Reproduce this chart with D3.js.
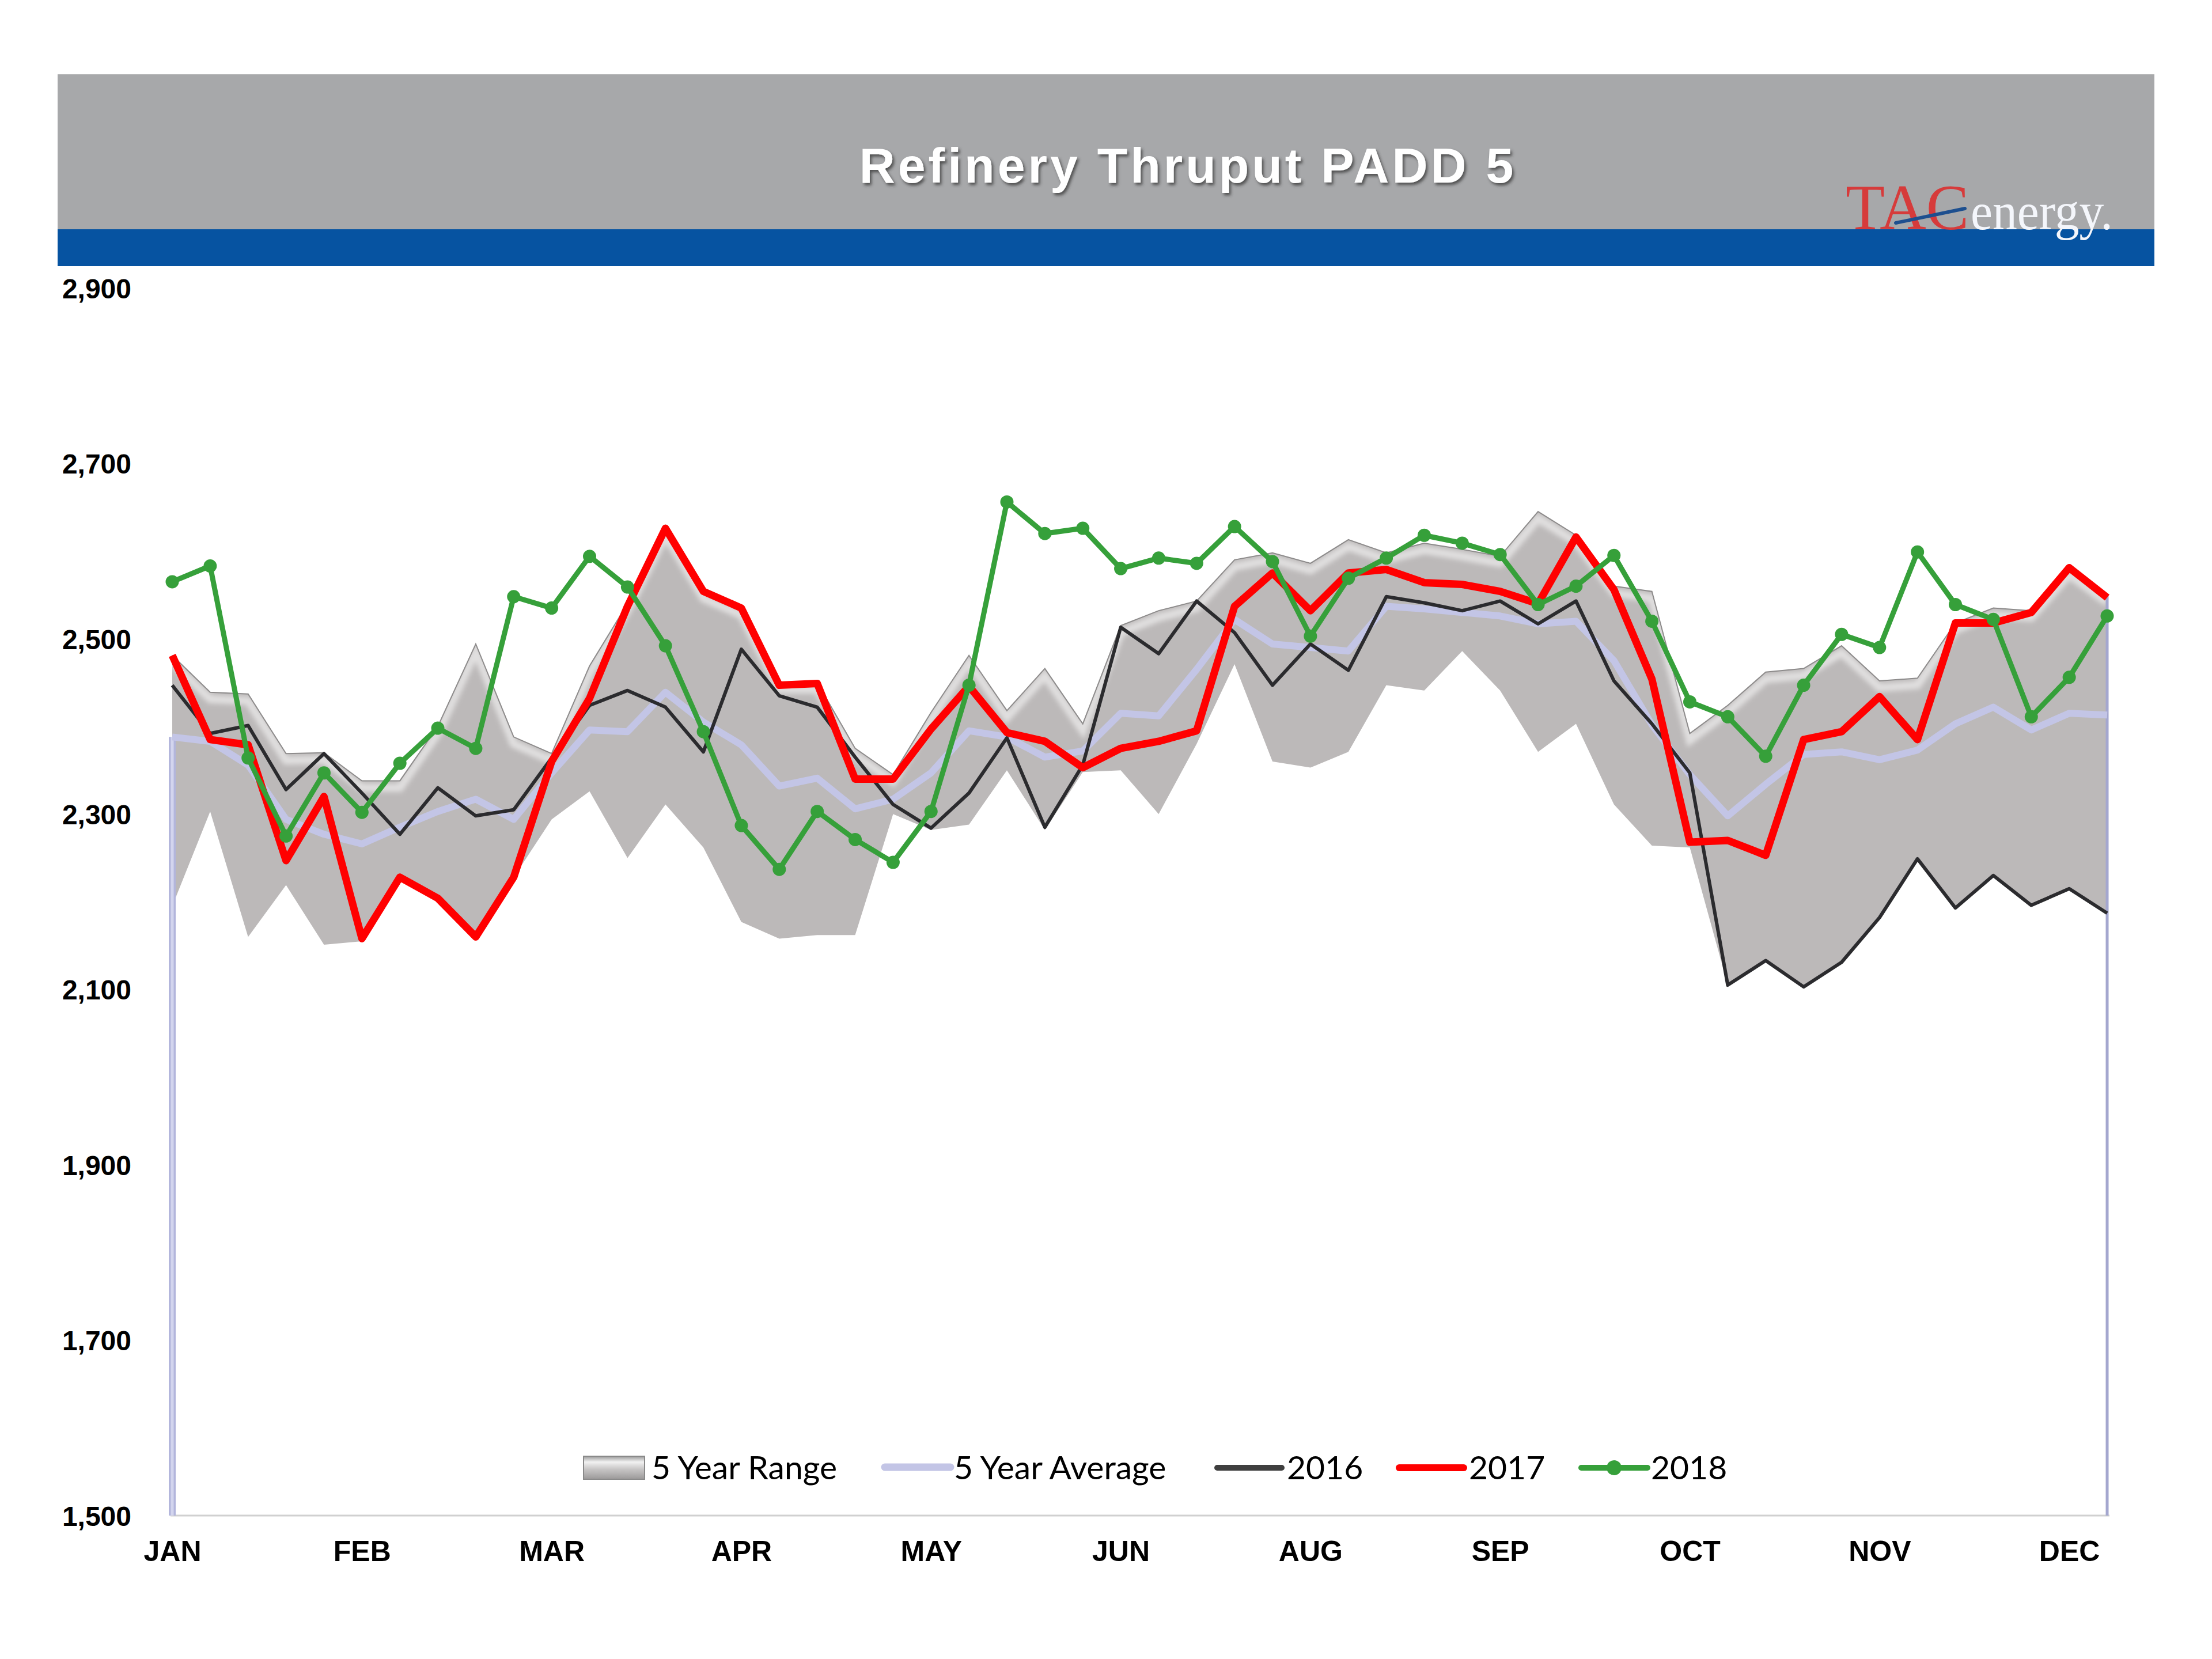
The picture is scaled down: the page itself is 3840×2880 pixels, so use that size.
<!DOCTYPE html>
<html>
<head>
<meta charset="utf-8">
<script src="https://cdn.jsdelivr.net/npm/d3@7"></script>
<style>
  html, body { margin: 0; padding: 0; background: #ffffff; }
  svg { display: block; }
</style>
</head>
<body>
<svg id="chart" width="3840" height="2880"></svg>
<script>
// ---------------- DATA ----------------
const weeks = d3.range(52);
const monthLabels = ["JAN","FEB","MAR","APR","MAY","JUN","AUG","SEP","OCT","NOV","DEC"];
const monthTickWeeks = [0,5,10,15,20,25,30,35,40,45,50];
const yTicks = [1500,1700,1900,2100,2300,2500,2700,2900];

const rangeLow = [2195,2303,2160,2219,2151,2155,2228,2204,2160,2228,
                  2294,2326,2250,2311,2262,2177,2158,2162,2162,2300,
                  2282,2288,2350,2282,2348,2350,2300,2380,2471,2360,
                  2353,2371,2447,2441,2486,2441,2371,2403,2311,2264,
                  2262,2105,2133,2103,2131,2182,2249,2193,2230,2196,
                  2215,2187];
const rangeHigh = [2481,2439,2437,2369,2370,2338,2338,2400,2494,2388,
                   2369,2469,2540,2626,2554,2535,2450,2450,2375,2345,
                   2416,2481,2418,2466,2403,2515,2532,2543,2590,2598,
                   2586,2613,2598,2609,2602,2594,2645,2618,2560,2554,
                   2392,2424,2462,2466,2492,2452,2455,2518,2535,2532,
                   2581,2549];
const avg5 = [2388,2383,2356,2294,2277,2266,2285,2303,2317,2294,
              2347,2396,2394,2439,2405,2379,2332,2341,2306,2317,
              2347,2395,2388,2365,2372,2415,2412,2465,2522,2494,
              2490,2486,2537,2534,2530,2526,2517,2520,2475,2402,
              2345,2298,2334,2368,2371,2362,2373,2403,2422,2396,
              2415,2413];
const y2016 = [2447,2392,2401,2328,2369,2324,2277,2330,2298,2305,
               2364,2424,2441,2422,2371,2488,2435,2422,2365,2311,
               2284,2324,2387,2285,2356,2513,2483,2543,2507,2447,
               2494,2464,2548,2541,2532,2543,2517,2543,2452,2403,
               2347,2105,2133,2103,2131,2182,2249,2193,2230,2196,
               2215,2187];
const y2017 = [2481,2385,2379,2247,2320,2158,2228,2204,2160,2228,
               2360,2432,2537,2626,2554,2535,2447,2449,2340,2340,
               2397,2446,2393,2383,2353,2375,2383,2395,2537,2575,
               2532,2575,2579,2564,2562,2554,2540,2616,2556,2454,
               2268,2270,2253,2385,2394,2434,2385,2518,2518,2530,
               2581,2547];
const y2018 = [2565,2583,2364,2275,2347,2302,2358,2398,2375,2548,
               2535,2594,2559,2492,2394,2287,2237,2303,2271,2245,
               2303,2447,2656,2620,2626,2580,2592,2586,2628,2588,
               2503,2569,2592,2618,2609,2596,2539,2560,2595,2520,
               2428,2411,2366,2447,2505,2490,2599,2539,2522,2411,
               2456,2526];

// ---------------- DRAW ----------------
const svg = d3.select("#chart");
const defs = svg.append("defs");

const shadow = defs.append("filter").attr("id","titleShadow")
  .attr("x","-10%").attr("y","-30%").attr("width","120%").attr("height","160%");
shadow.append("feDropShadow").attr("dx",3).attr("dy",4).attr("stdDeviation",2.5)
  .attr("flood-color","#3a3a3a").attr("flood-opacity",0.8);

const blur = defs.append("filter").attr("id","softBlur");
blur.append("feGaussianBlur").attr("stdDeviation",4);

const swGrad = defs.append("linearGradient").attr("id","swatchGrad")
  .attr("x1",0).attr("y1",0).attr("x2",0).attr("y2",1);
swGrad.append("stop").attr("offset","0%").attr("stop-color","#9a9a9a");
swGrad.append("stop").attr("offset","25%").attr("stop-color","#f2f2f2");
swGrad.append("stop").attr("offset","55%").attr("stop-color","#c9c7c7");
swGrad.append("stop").attr("offset","100%").attr("stop-color","#9b9999");

// Header
svg.append("rect").attr("x",100).attr("y",129).attr("width",3640).attr("height",270).attr("fill","#a7a8aa");
svg.append("rect").attr("x",100).attr("y",398).attr("width",3640).attr("height",64).attr("fill","#0653a1");

svg.append("text")
  .attr("x",2062).attr("y",317)
  .attr("text-anchor","middle")
  .attr("font-family","'Liberation Sans', Arial, sans-serif")
  .attr("font-weight","bold")
  .attr("font-size",86)
  .attr("letter-spacing",5)
  .attr("fill","#ffffff")
  .attr("filter","url(#titleShadow)")
  .text("Refinery Thruput PADD 5");

// Logo
const logo = svg.append("g");
logo.append("text").attr("x",3204).attr("y",398)
  .attr("font-family","'Liberation Serif', 'Times New Roman', serif")
  .attr("font-size",113).attr("fill","#d63b3b")
  .attr("textLength",214).attr("lengthAdjust","spacingAndGlyphs")
  .text("TAC");
logo.append("text").attr("x",3421).attr("y",398)
  .attr("font-family","'Liberation Serif', 'Times New Roman', serif")
  .attr("font-size",92).attr("fill","#f4f6fb")
  .attr("textLength",247).attr("lengthAdjust","spacingAndGlyphs")
  .text("energy.");
logo.append("line").attr("x1",3291).attr("y1",387).attr("x2",3411).attr("y2",362)
  .attr("stroke","#1d4f8f").attr("stroke-width",6).attr("stroke-linecap","round");

// Scales
const x = d3.scaleLinear().domain([0,51]).range([299,3658]);
const y = d3.scaleLinear().domain([1500,2900]).range([2631,500]);

// Bottom axis base line (soft)
svg.append("line").attr("x1",296).attr("x2",3662).attr("y1",y(1500)+2).attr("y2",y(1500)+2)
  .attr("stroke","#d4d4d4").attr("stroke-width",10).attr("filter","url(#softBlur)");
svg.append("line").attr("x1",296).attr("x2",3662).attr("y1",y(1500)).attr("y2",y(1500))
  .attr("stroke","#d0d0d0").attr("stroke-width",3);

// 5-year range
const area = d3.area().x(i => x(i)).y0(i => y(rangeLow[i])).y1(i => y(rangeHigh[i]));
svg.append("clipPath").attr("id","rangeClip").append("path").attr("d", area(weeks));
svg.append("path").attr("d", area(weeks)).attr("fill","#bcb9b9");
// bevel highlight
const upperLine = d3.line().x(i => x(i)).y(i => y(rangeHigh[i]));
svg.append("g").attr("clip-path","url(#rangeClip)")
  .append("path").attr("d", upperLine(weeks))
  .attr("transform","translate(0,12)")
  .attr("fill","none").attr("stroke","#ffffff").attr("stroke-opacity",0.55)
  .attr("stroke-width",14).attr("filter","url(#softBlur)");
svg.append("path").attr("d", upperLine(weeks))
  .attr("fill","none").attr("stroke","#8d8b8b").attr("stroke-width",2);

// vertical end lines
svg.append("line").attr("x1",x(0)).attr("x2",x(0)).attr("y1",y(avg5[0])).attr("y2",y(1500))
  .attr("stroke","#b3b6dc").attr("stroke-width",12);
svg.append("line").attr("x1",x(0)).attr("x2",x(0)).attr("y1",y(avg5[0])).attr("y2",y(1500))
  .attr("stroke","#d3d5ee").attr("stroke-width",5);
svg.append("line").attr("x1",x(51)).attr("x2",x(51)).attr("y1",y(rangeHigh[51])).attr("y2",y(1500))
  .attr("stroke","#a4a7cf").attr("stroke-width",5);

const line = vals => d3.line().x(i => x(i)).y(i => y(vals[i]))(weeks);

svg.append("path").attr("d", line(avg5)).attr("fill","none")
  .attr("stroke","#c3c5e6").attr("stroke-width",12).attr("stroke-linejoin","round");
svg.append("path").attr("d", line(y2016)).attr("fill","none")
  .attr("stroke","#2b2b2e").attr("stroke-width",6).attr("stroke-linejoin","round");
svg.append("path").attr("d", line(y2017)).attr("fill","none")
  .attr("stroke","#ff0000").attr("stroke-width",13).attr("stroke-linejoin","round");
svg.append("path").attr("d", line(y2018)).attr("fill","none")
  .attr("stroke","#36a03a").attr("stroke-width",9).attr("stroke-linejoin","round");
svg.append("g").selectAll("circle").data(weeks).join("circle")
  .attr("cx", i => x(i)).attr("cy", i => y(y2018[i])).attr("r",11.5)
  .attr("fill","#36a03a");

// Axes
const yAxis = d3.axisLeft(y).tickValues(yTicks).tickFormat(d3.format(",")).tickSize(0).tickPadding(0);
const gy = svg.append("g").attr("transform","translate(228,0)").call(yAxis);
gy.select(".domain").remove();
gy.selectAll("text")
  .attr("font-family","'Liberation Sans', Arial, sans-serif")
  .attr("font-weight","bold").attr("font-size",48).attr("fill","#000")
  .attr("dy","0.36em");

const xAxis = d3.axisBottom(x).tickValues(monthTickWeeks)
  .tickFormat((d,i) => monthLabels[i]).tickSize(0).tickPadding(43);
const gx = svg.append("g").attr("transform",`translate(0,${y(1500)})`).call(xAxis);
gx.select(".domain").remove();
gx.selectAll("text")
  .attr("font-family","'Liberation Sans', Arial, sans-serif")
  .attr("font-weight","bold").attr("font-size",50).attr("fill","#000");

// Legend
const lg = svg.append("g")
  .attr("font-family","Lato, 'Open Sans', sans-serif")
  .attr("font-size",57).attr("fill","#000");
lg.append("rect").attr("x",1013).attr("y",2528).attr("width",106).attr("height",40)
  .attr("fill","url(#swatchGrad)").attr("stroke","#8a8a8a").attr("stroke-width",2);
lg.append("text").attr("x",1131).attr("y",2568).text("5 Year Range");
lg.append("line").attr("x1",1536).attr("x2",1650).attr("y1",2547).attr("y2",2547)
  .attr("stroke","#c3c5e6").attr("stroke-width",13).attr("stroke-linecap","round");
lg.append("text").attr("x",1656).attr("y",2568).text("5 Year Average");
lg.append("line").attr("x1",2113).attr("x2",2225).attr("y1",2548).attr("y2",2548)
  .attr("stroke","#3f3f3f").attr("stroke-width",10).attr("stroke-linecap","round");
lg.append("text").attr("x",2234).attr("y",2568).text("2016");
lg.append("line").attr("x1",2429).attr("x2",2541).attr("y1",2548).attr("y2",2548)
  .attr("stroke","#ff0000").attr("stroke-width",12).attr("stroke-linecap","round");
lg.append("text").attr("x",2550).attr("y",2568).text("2017");
lg.append("line").attr("x1",2745).attr("x2",2860).attr("y1",2548).attr("y2",2548)
  .attr("stroke","#36a03a").attr("stroke-width",10).attr("stroke-linecap","round");
lg.append("circle").attr("cx",2802).attr("cy",2548).attr("r",13).attr("fill","#36a03a");
lg.append("text").attr("x",2866).attr("y",2568).text("2018");
</script>
</body>
</html>
